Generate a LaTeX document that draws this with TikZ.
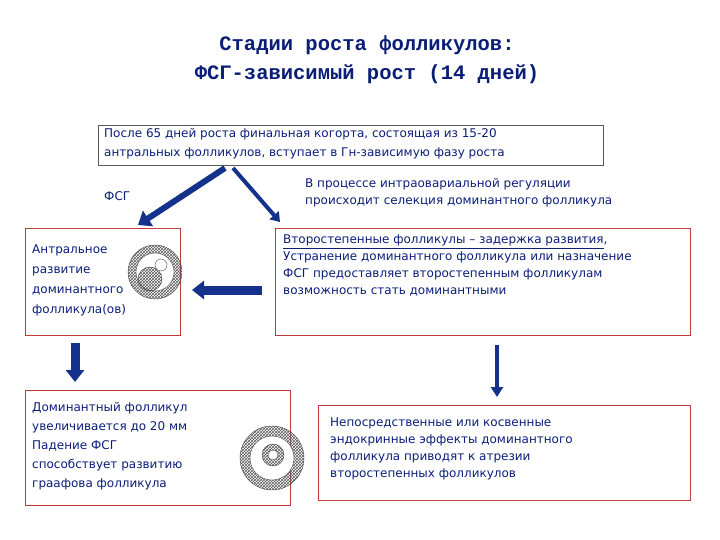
\documentclass[tikz,border=0pt]{standalone}
\usepackage{fontspec}
\setmainfont{DejaVu Sans}
\newfontfamily\titlefont{Liberation Mono}
\usetikzlibrary{patterns,arrows.meta}
\definecolor{navy}{RGB}{10,30,120}
\definecolor{arrowblue}{RGB}{20,50,140}
\definecolor{boxred}{RGB}{190,60,60}
\begin{document}
\begin{tikzpicture}[x=1pt,y=-1pt,
  txt/.style={text=navy,font=\fontsize{12}{17}\selectfont,align=left,anchor=north west,inner sep=0pt},
  redbox/.style={draw=boxred,line width=0.8pt},
  bigarrow/.style={draw=arrowblue,line width=6pt,-{Triangle[length=12pt,width=18pt]}},
  hatch/.style={pattern=crosshatch,pattern color=gray!70!black,draw=gray!50!black}]
\useasboundingbox (0,0) rectangle (720,540);
\node[font=\titlefont\bfseries\fontsize{20.5}{29}\selectfont,text=navy,align=center] (title) at (367,60) {Стадии роста фолликулов:\\ФСГ-зависимый рост (14 дней)};
\node[draw=gray!70!black,line width=0.8pt,minimum width=505pt,minimum height=40pt,anchor=north west] (top) at (98,125) {};
\node[txt,font=\fontsize{12}{19}\selectfont] (toptxt) at (104,128) {После 65 дней роста финальная когорта, состоящая из 15-20\\антральных фолликулов, вступает в Гн-зависимую фазу роста};
\node[txt] (fsg) at (104,191) {ФСГ};
\node[txt] (sel) at (305,178) {В процессе интраовариальной регуляции\\происходит селекция доминантного фолликула};
\node[redbox,minimum width=155pt,minimum height=107pt,anchor=north west] (b1) at (25,228) {};
\node[txt,font=\fontsize{12}{20}\selectfont] (b1t) at (32,245) {Антральное\\развитие\\доминантного\\фолликула(ов)};
\node[redbox,minimum width=415pt,minimum height=107pt,anchor=north west] (b2) at (275,228) {};
\node[txt] (b2t) at (283,235) {\underline{Второстепенные фолликулы – задержка развития},\\Устранение доминантного фолликула или назначение\\ФСГ предоставляет второстепенным фолликулам\\возможность стать доминантными};
\node[redbox,minimum width=265pt,minimum height=115pt,anchor=north west] (b3) at (25,390) {};
\node[txt,font=\fontsize{12}{19}\selectfont] (b3t) at (32,402) {Доминантный фолликул\\увеличивается до 20 мм\\Падение ФСГ\\способствует развитию\\граафова фолликула};
\node[redbox,minimum width=372pt,minimum height=95pt,anchor=north west] (b4) at (318,405) {};
\node[txt] (b4t) at (330,418) {Непосредственные или косвенные\\эндокринные эффекты доминантного\\фолликула приводят к атрезии\\второстепенных фолликулов};
% follicle 1
\fill[hatch] (155,272) circle (27);
\filldraw[fill=white,draw=gray!60!black] (155,272) circle (19);
\fill[hatch] (150,279) circle (12);
\filldraw[fill=white,draw=gray!60!black] (161,265) circle (6);
% follicle 2
\fill[hatch] (272,458) circle (32);
\filldraw[fill=white,draw=gray!60!black] (272,458) circle (22);
\fill[hatch] (273,455) circle (11);
\filldraw[fill=white,draw=gray!60!black] (273,455) circle (5);
% arrows
\coordinate (a1s) at (225,168); \coordinate (a1e) at (138,225);
\coordinate (a2s) at (233,168); \coordinate (a2e) at (280,222);
\coordinate (a3s) at (262,290); \coordinate (a3e) at (192,290);
\coordinate (a4s) at (75,343); \coordinate (a4e) at (75,382);
\coordinate (a5s) at (497,345); \coordinate (a5e) at (497,397);
\draw[bigarrow] (a1s) -- (a1e);
\draw[draw=arrowblue,line width=4pt,-{Triangle[length=9pt,width=12pt]}] (a2s) -- (a2e);
\draw[bigarrow,line width=9pt] (a3s) -- (a3e);
\draw[bigarrow,line width=9pt] (a4s) -- (a4e);
\draw[draw=arrowblue,line width=4pt,-{Triangle[length=10pt,width=12pt]}] (a5s) -- (a5e);
\end{tikzpicture}
\end{document}
